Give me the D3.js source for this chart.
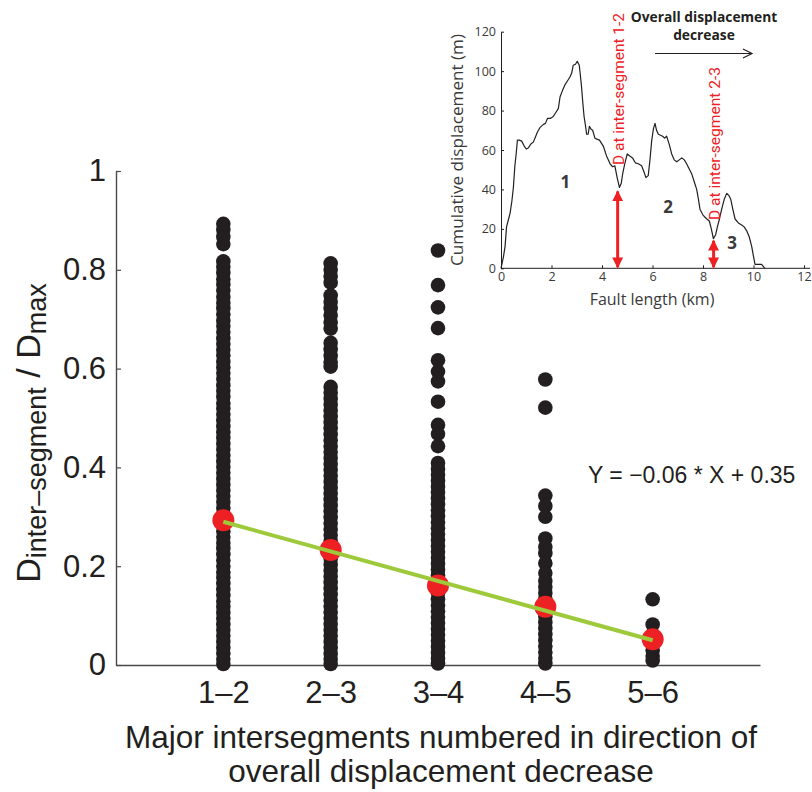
<!DOCTYPE html>
<html>
<head>
<meta charset="utf-8">
<script src="https://cdn.jsdelivr.net/npm/d3@7"></script>
<style>
  body { margin: 0; background: #fff; }
  svg { display: block; }
</style>
</head>
<body>
<div id="chart"></div>
<script>

// main chart data

let xCats = ["1–2", "2–3", "3–4", "4–5", "5–6"];
let yTicks = [0, 0.2, 0.4, 0.6, 0.8, 1];

let ratio12 = [0.893, 0.881, 0.867, 0.852, 0.817, 0.806, 0.794, 0.781, 0.770, 0.758, 0.745, 0.733, 0.722, 0.710,
  0.697, 0.686, 0.674, 0.661, 0.650, 0.638, 0.627, 0.614, 0.602, 0.591, 0.579, 0.566, 0.555, 0.543, 0.530, 0.519,
  0.507, 0.495, 0.483, 0.471, 0.460, 0.448, 0.436, 0.424, 0.412, 0.401, 0.389, 0.377, 0.365, 0.353, 0.342, 0.330,
  0.318, 0.306, 0.294, 0.283, 0.271, 0.259, 0.247, 0.236, 0.224, 0.212, 0.200, 0.188, 0.177, 0.165, 0.153, 0.141,
  0.129, 0.118, 0.106, 0.094, 0.082, 0.071, 0.059, 0.047, 0.035, 0.024, 0.012, 0.002];

let ratio23 = [0.813, 0.800, 0.787, 0.774, 0.748, 0.735, 0.722, 0.708, 0.694, 0.681, 0.652, 0.639, 0.626, 0.613,
  0.604, 0.563, 0.551, 0.539, 0.527, 0.515, 0.503, 0.491, 0.479, 0.467, 0.455, 0.443, 0.431, 0.419, 0.407, 0.395,
  0.383, 0.371, 0.359, 0.347, 0.335, 0.323, 0.311, 0.299, 0.287, 0.275, 0.263, 0.251, 0.239, 0.227, 0.215, 0.203,
  0.191, 0.179, 0.167, 0.155, 0.143, 0.131, 0.119, 0.107, 0.095, 0.083, 0.071, 0.059, 0.047, 0.035, 0.023, 0.012,
  0.002];

let ratio34 = [0.839, 0.769, 0.724, 0.682, 0.617, 0.594, 0.574, 0.533, 0.486, 0.468, 0.443, 0.409, 0.397, 0.385,
  0.373, 0.361, 0.349, 0.337, 0.325, 0.313, 0.301, 0.289, 0.277, 0.265, 0.253, 0.241, 0.229, 0.217, 0.205, 0.193,
  0.181, 0.169, 0.157, 0.145, 0.133, 0.121, 0.109, 0.097, 0.085, 0.073, 0.061, 0.049, 0.037, 0.025, 0.013, 0.003];

let ratio45 = [0.578, 0.521, 0.343, 0.322, 0.300, 0.256, 0.239, 0.226, 0.206, 0.186, 0.170, 0.158, 0.146, 0.134,
  0.122, 0.110, 0.098, 0.086, 0.074, 0.062, 0.050, 0.038, 0.026, 0.014, 0.003];

let ratio56 = [0.133, 0.082, 0.062, 0.045, 0.030, 0.018, 0.009];

let meanRatio = [0.293, 0.233, 0.161, 0.118, 0.052];

// linear fit shown in the figure
let fitSlope = -0.06;
let fitIntercept = 0.35;

// inset data: fault displacement profile

let faultKm = [0, 0.1, 0.16, 0.22, 0.3, 0.36, 0.43, 0.49, 0.55, 0.6, 0.65, 0.72, 0.82, 0.92, 1.0, 1.08, 1.18,
  1.28, 1.36, 1.44, 1.55, 1.68, 1.76, 1.84, 1.95, 2.07, 2.17, 2.27, 2.34, 2.43, 2.53, 2.63, 2.73, 2.8, 2.86,
  2.95, 3.02, 3.1, 3.15, 3.19, 3.24, 3.29, 3.35, 3.39, 3.45, 3.5, 3.57, 3.63, 3.72, 3.8, 3.9, 4.05, 4.18,
  4.32, 4.42, 4.51, 4.6, 4.69, 4.76, 4.82, 4.9, 5.0, 5.1, 5.21, 5.32, 5.44, 5.57, 5.66, 5.74, 5.83, 5.9, 5.97,
  6.04, 6.1, 6.16, 6.23, 6.32, 6.4, 6.48, 6.56, 6.66, 6.76, 6.86, 6.96, 7.06, 7.16, 7.26, 7.35, 7.45, 7.55,
  7.65, 7.75, 7.82, 7.88, 8.0, 8.15, 8.25, 8.33, 8.41, 8.5, 8.57, 8.65, 8.74, 8.84, 8.94, 9.02, 9.1, 9.18,
  9.27, 9.4, 9.53, 9.63, 9.73, 9.83, 9.93, 10.0, 10.06, 10.12, 10.19, 10.26, 10.32, 10.45];

let dispM = [0, 6, 11, 21, 25, 28, 34, 41, 52, 58, 65, 65, 64.5, 62, 60.5, 61, 63, 64, 66.5, 69, 71.5, 73, 73.5,
  76, 76, 77, 79, 81, 87, 90, 93, 95, 97, 99, 103, 103.5, 105, 103, 97, 92, 84, 77, 72, 68, 68, 72, 70.5, 70,
  66, 65.5, 65, 62, 57, 53, 51.5, 52, 46, 41, 43, 48, 53, 58, 57, 56, 53.5, 53, 52, 49, 46, 47, 55, 65, 71,
  73.5, 70, 68, 67.5, 67, 66, 67, 63, 58, 55, 54, 55, 56, 55, 53, 50.5, 48, 44, 40, 35, 30, 27, 25, 24, 20,
  15, 17, 21, 25, 30, 35, 38, 37, 35, 30, 25, 23, 22, 21, 19, 16, 11, 6, 2, 2, 2, 2, 2, 0];

let insetXTicks = [0, 2, 4, 6, 8, 10, 12];
let insetYTicks = [0, 20, 40, 60, 80, 100, 120];

// displacement at the two marked inter-segments
let interKm = [4.62, 8.42];
let interD = [39.5, 14.5];
let interLabels = ["D at inter-segment 1-2", "D at inter-segment 2-3"];

let segNames = ["1", "2", "3"];
let segKm = [2.55, 6.62, 9.15];
let segM = [44, 31, 13];

// setting up the svg

let svgW = 812;
let svgH = 792;

let svg = d3.select("#chart")
  .append("svg")
    .attr("width", svgW)
    .attr("height", svgH);

let mainFont = "'Liberation Sans', Arial, Helvetica, sans-serif";
let insetFont = "'Open Sans', 'Noto Sans', sans-serif";

// main scales

let x = d3.scaleLinear()
  .domain([0, 6])
  .range([116, 760]);

let y = d3.scaleLinear()
  .domain([0, 1])
  .range([665, 171]);

// y axis

svg.append("g")
  .attr("transform", `translate(${x(0)},0)`)
  .call(d3.axisLeft(y)
    .tickValues(yTicks)
    .tickSize(-5)
    .tickSizeOuter(0)
    .tickPadding(10)
    .tickFormat(d => String(d)))
  .call(g => g.select(".domain").attr("stroke", "#4a4a4a").attr("stroke-width", 1.4))
  .call(g => g.selectAll(".tick line").attr("stroke", "#4a4a4a").attr("stroke-width", 1.2))
  .selectAll(".tick text")
  .attr("fill", "#231f20")
  .style("font-family", mainFont)
  .style("font-size", "31px");

// x axis

svg.append("g")
  .attr("transform", `translate(0,${y(0)})`)
  .call(d3.axisBottom(x)
    .tickValues(xCats.map((d, i) => i + 1))
    .tickSize(0)
    .tickSizeOuter(0)
    .tickPadding(16)
    .tickFormat((d, i) => xCats[i]))
  .call(g => g.select(".domain").attr("stroke", "#4a4a4a").attr("stroke-width", 1.4))
  .selectAll(".tick text")
  .attr("fill", "#231f20")
  .style("font-family", mainFont)
  .style("font-size", "31px");

// the scatter of all inter-segment values

let allRatios = [ratio12, ratio23, ratio34, ratio45, ratio56];
let points = [];
allRatios.forEach((arr, i) => {
  arr.forEach(v => points.push({ cat: i + 1, value: v }));
});

svg.append("g")
  .selectAll("circle")
  .data(points)
  .join("circle")
  .attr("cx", d => x(d.cat))
  .attr("cy", d => y(d.value))
  .attr("r", 7.3)
  .attr("fill", "#231f20");

// mean values

svg.append("g")
  .selectAll("circle")
  .data(meanRatio)
  .join("circle")
  .attr("cx", (d, i) => x(i + 1))
  .attr("cy", d => y(d))
  .attr("r", 11)
  .attr("fill", "#ed2024");

// fit line, drawn over the red dots as in the figure

let fitData = [1, xCats.length].map(k => ({ cat: k, value: fitSlope * k + fitIntercept }));

svg.append("path")
  .datum(fitData)
  .attr("fill", "none")
  .attr("stroke", "#9dc93b")
  .attr("stroke-width", 4)
  .attr("d", d3.line().x(d => x(d.cat)).y(d => y(d.value)));

// equation

svg.append("text")
  .attr("x", 588)
  .attr("y", 483)
  .style("font-family", mainFont)
  .style("font-size", "23px")
  .attr("fill", "#231f20")
  .text(`Y = −${Math.abs(fitSlope).toFixed(2)} * X + ${fitIntercept.toFixed(2)}`);

// x axis title

svg.append("text")
  .attr("x", 441)
  .attr("y", 748)
  .attr("text-anchor", "middle")
  .style("font-family", mainFont)
  .style("font-size", "31.5px")
  .attr("fill", "#231f20")
  .text("Major intersegments numbered in direction of");

svg.append("text")
  .attr("x", 441)
  .attr("y", 782)
  .attr("text-anchor", "middle")
  .style("font-family", mainFont)
  .style("font-size", "31.5px")
  .attr("fill", "#231f20")
  .text("overall displacement decrease");

// y axis title with subscripts

let yTitle = svg.append("text")
  .attr("transform", "translate(40,433) rotate(-90)")
  .attr("text-anchor", "middle")
  .style("font-family", mainFont)
  .attr("fill", "#231f20");

yTitle.append("tspan").style("font-size", "34px").text("D");
yTitle.append("tspan").style("font-size", "27px").attr("dy", 6).text("inter–segment");
yTitle.append("tspan").style("font-size", "34px").attr("dy", -6).text(" / D");
yTitle.append("tspan").style("font-size", "27px").attr("dy", 6).text("max");

// ---------- inset ----------

let xi = d3.scaleLinear()
  .domain([0, 12])
  .range([501, 804]);

let yi = d3.scaleLinear()
  .domain([0, 120])
  .range([268.3, 31.7]);

svg.append("g")
  .attr("transform", `translate(${xi(0)},0)`)
  .call(d3.axisLeft(yi)
    .tickValues(insetYTicks)
    .tickSize(-3)
    .tickSizeOuter(0)
    .tickPadding(5))
  .call(g => g.select(".domain").attr("stroke", "#231f20").attr("stroke-width", 1))
  .call(g => g.selectAll(".tick line").attr("stroke", "#231f20"))
  .selectAll(".tick text")
  .attr("fill", "#3a3a3a")
  .style("font-family", insetFont)
  .style("font-size", "12.5px");

svg.append("g")
  .attr("transform", `translate(0,${yi(0)})`)
  .call(d3.axisBottom(xi)
    .tickValues(insetXTicks)
    .tickSize(-3)
    .tickSizeOuter(0)
    .tickPadding(4))
  .call(g => g.select(".domain").attr("stroke", "#231f20").attr("stroke-width", 1).attr("d", `M${xi(0)},0H810`))
  .call(g => g.selectAll(".tick line").attr("stroke", "#231f20"))
  .selectAll(".tick text")
  .attr("fill", "#3a3a3a")
  .style("font-family", insetFont)
  .style("font-size", "12.5px");

// inset axis titles

svg.append("text")
  .attr("transform", `translate(463,${yi(60)}) rotate(-90)`)
  .attr("text-anchor", "middle")
  .attr("textLength", 232)
  .attr("lengthAdjust", "spacingAndGlyphs")
  .style("font-family", insetFont)
  .style("font-size", "16px")
  .attr("fill", "#3a3a3a")
  .text("Cumulative displacement (m)");

svg.append("text")
  .attr("x", 652)
  .attr("y", 305)
  .attr("text-anchor", "middle")
  .style("font-family", insetFont)
  .style("font-size", "16px")
  .attr("fill", "#3a3a3a")
  .text("Fault length (km)");

// displacement profile

let profile = faultKm.map((k, i) => ({ km: k, m: dispM[i] }));

svg.append("path")
  .datum(profile)
  .attr("fill", "none")
  .attr("stroke", "#231f20")
  .attr("stroke-width", 1.2)
  .attr("stroke-linejoin", "round")
  .attr("d", d3.line().x(d => xi(d.km)).y(d => yi(d.m)));

// segment numbers

svg.append("g")
  .selectAll("text")
  .data(segNames)
  .join("text")
  .attr("x", (d, i) => xi(segKm[i]))
  .attr("y", (d, i) => yi(segM[i]) + 6)
  .attr("text-anchor", "middle")
  .style("font-family", insetFont)
  .style("font-size", "17px")
  .style("font-weight", "bold")
  .attr("fill", "#3a3a3a")
  .text(d => d);

// red double arrows at the inter-segments

svg.append("defs").selectAll("marker")
  .data(["redHeadEnd", "redHeadStart"])
  .join("marker")
  .attr("id", d => d)
  .attr("viewBox", "0 0 10 10")
  .attr("refX", 9)
  .attr("refY", 5)
  .attr("markerUnits", "userSpaceOnUse")
  .attr("markerWidth", 11)
  .attr("markerHeight", 11)
  .attr("orient", d => d === "redHeadEnd" ? "auto" : "auto-start-reverse")
  .append("path")
  .attr("d", "M0,0L10,5L0,10Z")
  .attr("fill", "#ed2024");

svg.append("g")
  .selectAll("line")
  .data(interKm)
  .join("line")
  .attr("x1", d => xi(d))
  .attr("x2", d => xi(d))
  .attr("y1", yi(0) - 1)
  .attr("y2", (d, i) => yi(interD[i]) + 1)
  .attr("stroke", "#ed2024")
  .attr("stroke-width", 3)
  .attr("marker-start", "url(#redHeadStart)")
  .attr("marker-end", "url(#redHeadEnd)");

// red vertical labels

let labelCenters = [89, 143.5];
let labelLen = [152, 153];

svg.append("g")
  .selectAll("text")
  .data(interLabels)
  .join("text")
  .attr("transform", (d, i) => `translate(${xi(interKm[i]) + 6},${labelCenters[i]}) rotate(-90)`)
  .attr("text-anchor", "middle")
  .attr("textLength", (d, i) => labelLen[i])
  .attr("lengthAdjust", "spacingAndGlyphs")
  .style("font-family", "'Liberation Sans Narrow', 'Roboto', sans-serif")
  .style("font-size", "15px")
  .attr("fill", "#ed2024")
  .text(d => d);

// overall decrease note and arrow

svg.append("text")
  .attr("x", 704)
  .attr("y", 22)
  .attr("text-anchor", "middle")
  .style("font-family", insetFont)
  .style("font-size", "13.8px")
  .style("font-weight", "bold")
  .attr("fill", "#231f20")
  .text("Overall displacement");

svg.append("text")
  .attr("x", 704)
  .attr("y", 40)
  .attr("text-anchor", "middle")
  .style("font-family", insetFont)
  .style("font-size", "13.8px")
  .style("font-weight", "bold")
  .attr("fill", "#231f20")
  .text("decrease");

svg.append("path")
  .attr("d", "M655,53.5H752M743,49L752,53.5L743,58")
  .attr("fill", "none")
  .attr("stroke", "#231f20")
  .attr("stroke-width", 1.2);

</script>
</body>
</html>
